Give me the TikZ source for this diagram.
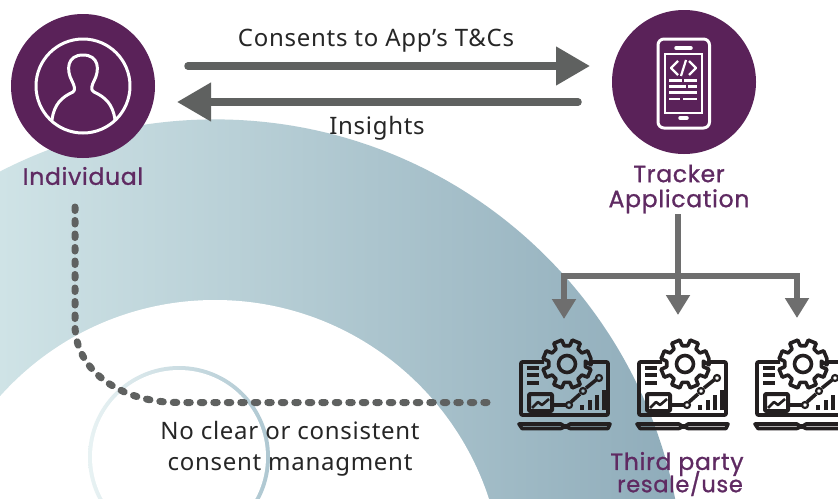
\documentclass[tikz,border=0pt]{standalone}
\usepackage{fontspec}
\usetikzlibrary{arrows.meta}
\newfontfamily\bodyfont[LetterSpace=3.0]{Noto Sans}
\newfontfamily\headfont[LetterSpace=3.0,FakeBold=1]{Poppins}
\definecolor{plum}{HTML}{5A2259}
\definecolor{plumtext}{HTML}{5F2A62}
\definecolor{arrowgrey}{HTML}{5F6160}
\definecolor{treegrey}{HTML}{6E6E6E}
\definecolor{icondark}{HTML}{231F20}
\definecolor{bandleft}{HTML}{CFE3E6}
\definecolor{bandright}{HTML}{8FACBA}
\definecolor{ringleft}{HTML}{E9F3F4}
\definecolor{ringright}{HTML}{AEC7D1}
\tikzset{
  disc/.style={circle,fill=plum,minimum size=144pt,inner sep=0pt},
  bodytext/.style={font=\bodyfont\fontsize{24}{31}\selectfont,text=black!85,align=center,inner sep=0pt},
  headtext/.style={font=\headfont\fontsize{23.5}{25}\selectfont,text=plumtext,align=center,inner sep=0pt},
  smallhead/.style={font=\headfont\fontsize{22.5}{24}\selectfont,text=plumtext,align=center,inner sep=0pt},
  bigarrow/.style={draw=arrowgrey,line width=7.5pt,line cap=round,-{Triangle[length=34pt,width=37pt]}},
  treeline/.style={draw=treegrey,line width=6pt},
  treearrow/.style={draw=treegrey,line width=6pt,-{Triangle[length=20pt,width=23pt]}},
  dotline/.style={draw=arrowgrey,line width=7pt,line cap=round,dash pattern=on 3.5pt off 10pt},
  iconwhite/.style={draw=white,line width=3pt,line cap=round,line join=round},
  ik/.style={draw=icondark,line width=3.6pt,line join=round},
  laptop/.pic={
    % gear
    \draw[ik] (0,0) circle (8.5pt);
    \draw[ik]
      (-2:24pt)
      \foreach \a in {0,45,...,315}{
        -- ({\a+22.5-10}:24.5pt) -- ({\a+22.5+10}:24.5pt)
        -- ({\a+22.5+14}:18.5pt) -- ({\a+22.5+31}:18.5pt)
      } -- cycle;
    % screen
    \draw[ik,rounded corners=1pt] (-23,-2) -- (-46,-2) -- (-46,51) -- (41,51) -- (41,-2) -- (23,-2);
    % base
    \draw[ik] (-48,60) -- (-6,60) -- (-3,62) -- (0,62) -- (3,60) -- (43,60)
      -- (41,64.5) -- (3,64.5) -- (0,63) -- (-3,63) -- (-6,64.5) -- (-45,64.5) -- cycle;
    % menu
    \draw[ik] (-40,4) -- (-28,4) (-40,11) -- (-28,11) (-40,19) -- (-28,19);
    % box
    \draw[ik,line width=4pt,rounded corners=1pt] (-38,30) rectangle (-15,47);
    \draw[ik,line width=2.6pt] (-35,44) -- (-29,38) -- (-25,41) -- (-18,35);
    % chart
    \draw[ik] (-13,41) -- (-1,41) (4,38) -- (13,30) (19,24) -- (29,16);
    \draw[ik,line width=2.2pt] (2,41) circle (3pt) (16,27) circle (3pt) (32,14) circle (3pt);
    \draw[ik,line width=4pt] (15,46) -- (15,41) (23,46) -- (23,36) (30,46) -- (30,31) (37,46) -- (37,26);
  }
}
\begin{document}
\begin{tikzpicture}[x=1pt,y=-1pt]
\path[use as bounding box] (0,0) rectangle (838,498);
\fill[white] (0,0) rectangle (838,498);
\begin{scope}
  \clip (0,0) rectangle (838,498);
  % large ring band
  \begin{scope}
    \clip (215,588) circle (468.6pt);
    \shade[left color=bandleft,right color=bandright] (0,100) rectangle (680,498);
  \end{scope}
  \fill[white] (215,588) circle (288pt);
  % small ring
  \begin{scope}
    \clip (179,457) circle (91pt);
    \shade[left color=ringleft,right color=ringright] (85,360) rectangle (272,498);
  \end{scope}
  \fill[white] (179,457) circle (87pt);

  \node[disc] (indiv) at (83,86) {};
  \node[disc] (app) at (684,82) {};

  % person icon
  \draw[iconwhite] (indiv.center) circle (47pt);
  \draw[iconwhite] (52,120) .. controls (54,104) and (62,97) .. (73,92)
    .. controls (76,90) and (74,85) .. (72,81)
    .. controls (66,70) and (67,55) .. (83,55)
    .. controls (99,55) and (100,70) .. (94,81)
    .. controls (92,85) and (90,90) .. (94,92)
    .. controls (105,97) and (113,104) .. (115,120);

  % phone icon
  \draw[iconwhite,rounded corners=6pt] (658,39) rectangle (709.5,128);
  \draw[iconwhite,line width=3.5pt] (676,48) -- (691,48) (680,118) -- (687,118);
  \draw[iconwhite,line width=2pt,line cap=butt,line join=miter] (665,53.5) rectangle (702,113);
  \draw[iconwhite,line width=2.2pt,line cap=butt]
    (678,61) -- (671,68) -- (678,75) (689,61) -- (696,68) -- (689,75) (686,60) -- (681,76);
  \draw[iconwhite,line width=2.6pt,line cap=butt]
    (669,80.5) -- (682,80.5) (684,80.5) -- (697,80.5)
    (669,86.5) -- (686,86.5) (688,86.5) -- (697,86.5)
    (669,92.5) -- (697,92.5)
    (669,99) -- (680,99) (683,99) -- (697,99);

  % laptops
  \pic (lapA) at (567,364) {laptop};
  \pic (lapB) at (685,364) {laptop};
  \pic (lapC) at (803,364) {laptop};

  % labels
  \node[headtext] (lblindiv) at (83,176) {Individual};
  \node[headtext] (lblapp) at (679,189) {Tracker\\Application};
  \node[headtext] (lblthirdA) at (677,464) {Third party};
  \node[smallhead] (lblthirdB) at (680,483.5) {resale/use};
  \node[bodytext] (lblconsent) at (376,41) {Consents to App’s T\&Cs};
  \node[bodytext] (lblinsight) at (377,128) {Insights};
  \node[bodytext] (lblnone) at (290,449) {No clear or consistent\\consent managment};

  % connectors
  \coordinate (consentA) at (188,66);
  \coordinate (consentB) at (590,66);
  \coordinate (insightA) at (578,102);
  \coordinate (insightB) at (177,102);
  \draw[bigarrow] (consentA) -- (consentB);
  \draw[bigarrow] (insightA) -- (insightB);

  \coordinate (trunkTop) at (678,214);
  \coordinate (trunkJoin) at (678,276);
  \coordinate (barL) at (564,276);
  \coordinate (barR) at (797,276);
  \coordinate (tipL) at (564,319);
  \coordinate (tipM) at (678,315);
  \coordinate (tipR) at (797,318);
  \draw[treeline] (trunkTop) -- (trunkJoin);
  \draw[treearrow,line join=miter] (trunkJoin) -- (tipM);
  \draw[treearrow,line join=miter] (trunkJoin) -- (barL) -- (tipL);
  \draw[treearrow,line join=miter] (trunkJoin) -- (barR) -- (tipR);

  \coordinate (dotA) at (75,207);
  \coordinate (dotB) at (487,402.5);
  \draw[dotline] (dotA) -- (75,325) .. controls (75,370) and (120,402.5) .. (178,402.5) -- (dotB);
\end{scope}
\end{tikzpicture}
\end{document}
